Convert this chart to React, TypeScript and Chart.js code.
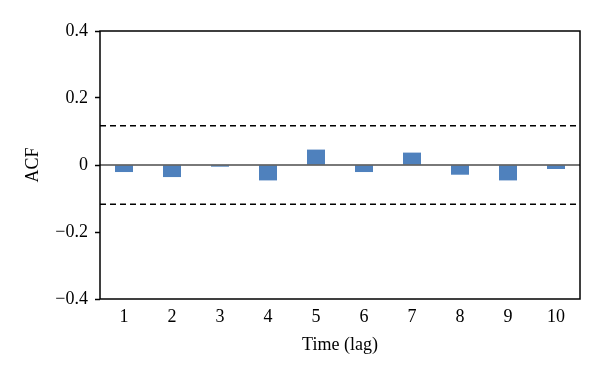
import React, { useEffect, useRef } from "react";
import { Chart, registerables } from "chart.js";

Chart.register(...registerables);

const lags = ["1", "2", "3", "4", "5", "6", "7", "8", "9", "10"];
const acfValues = [-0.021, -0.036, -0.005, -0.046, 0.046, -0.021, 0.037, -0.029, -0.046, -0.012];
const confidenceBounds = [0.117, -0.117];
const yTicks = [-0.4, -0.2, 0, 0.2, 0.4];

const FONT = "'Liberation Serif', 'DejaVu Serif', serif";

const fmt = (v: number) => {
  if (Math.abs(v) < 1e-9) return "0";
  const s = Math.abs(v).toFixed(1);
  return v < 0 ? "\u2212" + s : s;
};

const overlayPlugin = {
  id: "acfOverlay",
  afterDatasetsDraw(chart: any) {
    const { ctx, chartArea, scales } = chart;
    const y = scales.y;
    ctx.save();
    const y0 = y.getPixelForValue(0);
    ctx.strokeStyle = "#4d4d4d";
    ctx.lineWidth = 1.5;
    ctx.beginPath();
    ctx.moveTo(chartArea.left, y0);
    ctx.lineTo(chartArea.right, y0);
    ctx.stroke();
    ctx.strokeStyle = "#000";
    ctx.lineWidth = 1.5;
    ctx.setLineDash([6, 4]);
    for (const b of confidenceBounds) {
      const py = y.getPixelForValue(b);
      ctx.beginPath();
      ctx.moveTo(chartArea.left, py);
      ctx.lineTo(chartArea.right, py);
      ctx.stroke();
    }
    ctx.setLineDash([]);
    ctx.strokeStyle = "#000";
    ctx.lineWidth = 1.5;
    ctx.strokeRect(chartArea.left, chartArea.top, chartArea.right - chartArea.left, chartArea.bottom - chartArea.top);
    ctx.restore();
  },
};

export default function App() {
  const canvasRef = useRef<HTMLCanvasElement | null>(null);

  useEffect(() => {
    if (!canvasRef.current) return;
    const chart = new Chart(canvasRef.current, {
      type: "bar",
      data: {
        labels: lags,
        datasets: [
          {
            data: acfValues,
            backgroundColor: "#4f81bd",
            borderWidth: 0,
            categoryPercentage: 1,
            barPercentage: 0.375,
          },
        ],
      },
      options: {
        responsive: false,
        animation: false,
        layout: { padding: { left: 0, right: 20, top: 31, bottom: 0 } },
        plugins: { legend: { display: false }, tooltip: { enabled: false } },
        scales: {
          x: {
            grid: { display: false, drawTicks: false },
            border: { display: false },
            ticks: { color: "#000", font: { family: FONT, size: 18 }, padding: 7 },
            title: {
              display: true,
              text: "Time (lag)",
              color: "#000",
              font: { family: FONT, size: 18 },
              padding: { top: 0, bottom: 20 },
            },
            afterFit: (s: any) => {
              s.height = 77;
            },
          },
          y: {
            min: -0.4,
            max: 0.4,
            afterBuildTicks: (s: any) => {
              s.ticks = yTicks.map((v) => ({ value: v }));
            },
            grid: {
              drawOnChartArea: false,
              drawTicks: true,
              tickLength: 5,
              tickColor: "#000",
              tickWidth: 1.5,
            },
            border: { display: false },
            ticks: {
              color: "#000",
              font: { family: FONT, size: 18 },
              padding: 7,
              callback: (v: any) => fmt(Number(v)),
            },
            title: {
              display: true,
              text: "ACF",
              color: "#000",
              font: { family: FONT, size: 18 },
              padding: { top: 22, bottom: 0 },
            },
            afterFit: (s: any) => {
              s.width = 100;
            },
          },
        },
      },
      plugins: [overlayPlugin],
    });
    return () => chart.destroy();
  }, []);

  return (
    <div style={{ position: "fixed", left: 0, top: 0, width: 600, height: 376, background: "#fff" }}>
      <canvas ref={canvasRef} width={600} height={376} style={{ width: 600, height: 376 }} />
    </div>
  );
}
